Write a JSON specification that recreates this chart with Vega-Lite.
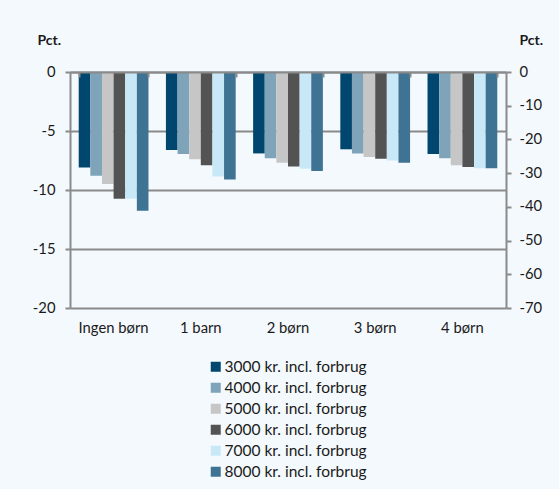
{
  "$schema": "https://vega.github.io/schema/vega-lite/v6.json",
  "width": 436,
  "height": 236,
  "autosize": "none",
  "padding": {"left": 70, "top": 72, "right": 53, "bottom": 181},
  "background": "#f4f9fd",
  "config": {
    "view": {"stroke": null},
    "font": "Lato",
    "axis": {"labelFont": "Lato", "titleFont": "Lato", "labelColor": "#1a1a1a", "titleColor": "#1a1a1a"}
  },
  "data": {
    "values": [
      {"gruppe": "Ingen børn", "serie": "3000 kr. incl. forbrug", "value": -8.1},
      {"gruppe": "Ingen børn", "serie": "4000 kr.  incl. forbrug", "value": -8.8},
      {"gruppe": "Ingen børn", "serie": "5000 kr. incl. forbrug", "value": -9.5},
      {"gruppe": "Ingen børn", "serie": "6000 kr. incl. forbrug", "value": -10.75},
      {"gruppe": "Ingen børn", "serie": "7000 kr. incl. forbrug", "value": -10.75},
      {"gruppe": "Ingen børn", "serie": "8000 kr. incl. forbrug", "value": -11.75},
      {"gruppe": "1 barn", "serie": "3000 kr. incl. forbrug", "value": -6.6},
      {"gruppe": "1 barn", "serie": "4000 kr.  incl. forbrug", "value": -6.95},
      {"gruppe": "1 barn", "serie": "5000 kr. incl. forbrug", "value": -7.4},
      {"gruppe": "1 barn", "serie": "6000 kr. incl. forbrug", "value": -7.9},
      {"gruppe": "1 barn", "serie": "7000 kr. incl. forbrug", "value": -8.85},
      {"gruppe": "1 barn", "serie": "8000 kr. incl. forbrug", "value": -9.1},
      {"gruppe": "2 børn", "serie": "3000 kr. incl. forbrug", "value": -6.9},
      {"gruppe": "2 børn", "serie": "4000 kr.  incl. forbrug", "value": -7.3},
      {"gruppe": "2 børn", "serie": "5000 kr. incl. forbrug", "value": -7.7},
      {"gruppe": "2 børn", "serie": "6000 kr. incl. forbrug", "value": -8.0},
      {"gruppe": "2 børn", "serie": "7000 kr. incl. forbrug", "value": -8.2},
      {"gruppe": "2 børn", "serie": "8000 kr. incl. forbrug", "value": -8.4},
      {"gruppe": "3 børn", "serie": "3000 kr. incl. forbrug", "value": -6.55},
      {"gruppe": "3 børn", "serie": "4000 kr.  incl. forbrug", "value": -6.9},
      {"gruppe": "3 børn", "serie": "5000 kr. incl. forbrug", "value": -7.2},
      {"gruppe": "3 børn", "serie": "6000 kr. incl. forbrug", "value": -7.35},
      {"gruppe": "3 børn", "serie": "7000 kr. incl. forbrug", "value": -7.5},
      {"gruppe": "3 børn", "serie": "8000 kr. incl. forbrug", "value": -7.7},
      {"gruppe": "4 børn", "serie": "3000 kr. incl. forbrug", "value": -6.95},
      {"gruppe": "4 børn", "serie": "4000 kr.  incl. forbrug", "value": -7.3},
      {"gruppe": "4 børn", "serie": "5000 kr. incl. forbrug", "value": -7.9},
      {"gruppe": "4 børn", "serie": "6000 kr. incl. forbrug", "value": -8.05},
      {"gruppe": "4 børn", "serie": "7000 kr. incl. forbrug", "value": -8.15},
      {"gruppe": "4 børn", "serie": "8000 kr. incl. forbrug", "value": -8.15}
    ]
  },
  "layer": [
    {
      "mark": {"type": "bar"},
      "encoding": {
        "x": {
          "field": "gruppe", "type": "nominal",
          "sort": ["Ingen børn", "1 barn", "2 børn", "3 børn", "4 børn"],
          "scale": {"paddingInner": 0.2, "paddingOuter": 0.1},
          "axis": {"orient": "bottom", "title": null, "labelAngle": 0, "labelFontSize": 14.8, "labelPadding": 12, "ticks": false, "domain": false}
        },
        "xOffset": {
          "field": "serie", "type": "nominal",
          "sort": ["3000 kr. incl. forbrug", "4000 kr.  incl. forbrug", "5000 kr. incl. forbrug", "6000 kr. incl. forbrug", "7000 kr. incl. forbrug", "8000 kr. incl. forbrug"],
          "scale": {"paddingInner": 0, "paddingOuter": 0}
        },
        "y": {
          "field": "value", "type": "quantitative",
          "scale": {"domain": [-20, 0], "nice": false, "zero": false},
          "axis": {
            "orient": "left", "values": [0, -5, -10, -15, -20],
            "labelExpr": "'' + datum.value",
            "title": "Pct.", "titleAngle": 0, "titleAlign": "left", "titleBaseline": "middle",
            "titleX": -33, "titleY": -32, "titleFontSize": 14, "titleFontWeight": "bold",
            "labelFontSize": 14.8, "labelPadding": 10, "tickSize": 5, "tickWidth": 2, "tickColor": "#8a8a8a",
            "domainColor": "#8a8a8a", "domainWidth": 2,
            "grid": true, "gridColor": "#8a8a8a", "gridWidth": 2
          }
        },
        "color": {
          "field": "serie", "type": "nominal",
          "sort": ["3000 kr. incl. forbrug", "4000 kr.  incl. forbrug", "5000 kr. incl. forbrug", "6000 kr. incl. forbrug", "7000 kr. incl. forbrug", "8000 kr. incl. forbrug"],
          "scale": {"range": ["#00466e", "#7fa3b9", "#c6c6c6", "#535353", "#c8e8f8", "#3e7393"]},
          "legend": {
            "title": null, "orient": "none", "legendX": 138, "legendY": 287,
            "symbolType": "square", "symbolSize": 100, "symbolStrokeWidth": 0, "symbolOpacity": 1,
            "labelFontSize": 15.5, "labelFont": "Lato", "labelColor": "#1a1a1a", "labelOffset": 1, "rowPadding": 4
          }
        }
      }
    },
    {
      "mark": {"type": "point", "opacity": 0},
      "encoding": {
        "x": {
          "field": "gruppe", "type": "nominal",
          "sort": ["Ingen børn", "1 barn", "2 børn", "3 børn", "4 børn"],
          "axis": {"orient": "top", "title": null, "labels": false, "domain": true, "domainColor": "#8a8a8a", "domainWidth": 2, "ticks": true, "tickBand": "extent", "tickSize": -5, "tickWidth": 2, "tickColor": "#8a8a8a", "zindex": 1}
        },
        "y": {
          "field": "value", "type": "quantitative",
          "scale": {"domain": [-70, 0], "nice": false, "zero": false},
          "axis": {
            "orient": "right", "values": [0, -10, -20, -30, -40, -50, -60, -70],
            "labelExpr": "'' + datum.value",
            "title": "Pct.", "titleAngle": 0, "titleAlign": "left", "titleBaseline": "middle",
            "titleX": 13, "titleY": -32, "titleFontSize": 14, "titleFontWeight": "bold",
            "labelFontSize": 14.8, "labelPadding": 8, "tickSize": 5, "tickWidth": 2, "tickColor": "#8a8a8a",
            "domainColor": "#8a8a8a", "domainWidth": 2, "grid": false
          }
        }
      }
    }
  ],
  "resolve": {"scale": {"y": "independent"}, "axis": {"y": "independent", "x": "independent"}}
}
